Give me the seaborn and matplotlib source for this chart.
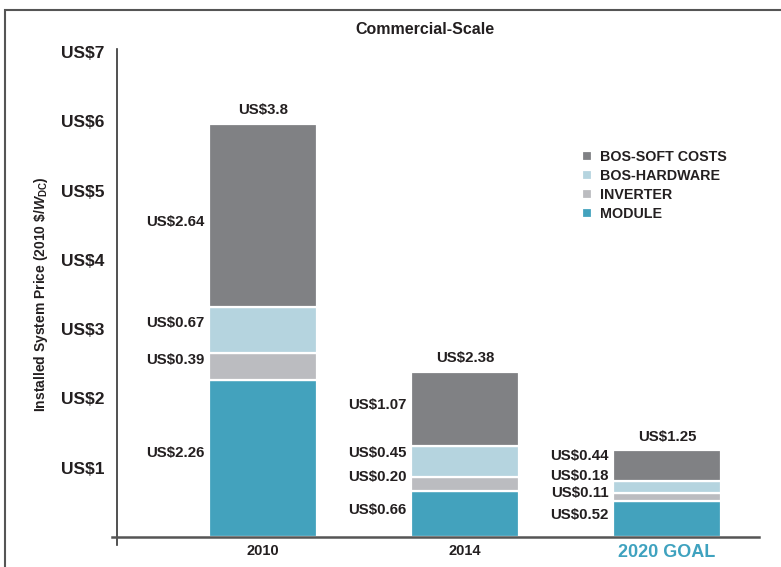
import numpy as np
import pandas as pd
import seaborn as sns
import matplotlib.pyplot as plt
from matplotlib.patches import Rectangle

# --- dane ---
years = ['2010', '2014', '2020 GOAL']
components = ['MODULE', 'INVERTER', 'BOS-HARDWARE', 'BOS-SOFT COSTS']
module = [2.26, 0.66, 0.52]
inverter = [0.39, 0.20, 0.11]
bos_hardware = [0.67, 0.45, 0.18]
bos_soft = [2.64, 1.07, 0.44]
total_labels = ['US$3.8', 'US$2.38', 'US$1.25']
y_ticks = [1, 2, 3, 4, 5, 6, 7]

colors = {'MODULE': '#43a2bd', 'INVERTER': '#bbbcc0',
          'BOS-HARDWARE': '#b5d4df', 'BOS-SOFT COSTS': '#808184'}
txt = '#231f20'

sns.set_theme(style='white')
plt.rcParams['font.family'] = ['Liberation Sans', 'DejaVu Sans']
plt.rcParams['mathtext.fontset'] = 'custom'
plt.rcParams['mathtext.it'] = 'Liberation Sans:italic:bold'
plt.rcParams['mathtext.rm'] = 'Liberation Sans:bold'

fig = plt.figure(figsize=(7.81, 5.67), dpi=100)
ax = fig.add_axes([117 / 781, 30 / 567, 642 / 781, 485 / 567])

values = np.array([module, inverter, bos_hardware, bos_soft])
bottoms = np.vstack([np.zeros(len(years)), np.cumsum(values, axis=0)[:-1]])

for i, comp in enumerate(components):
    df = pd.DataFrame({'year': years, 'value': values[i]})
    sns.barplot(data=df, x='year', y='value', order=years, bottom=bottoms[i],
                color=colors[comp], saturation=1, width=0.535,
                edgecolor='white', linewidth=1.6, label=comp, ax=ax)

# etykiety wartosci (po lewej stronie slupkow)
nudge = np.array([[4, 3, 3], [5, 5, 3], [5, 6, 8], [-5, 3, 7]])  # punkty
for i in range(len(components)):
    for j in range(len(years)):
        mid = bottoms[i, j] + values[i, j] / 2
        ax.annotate(f'US${values[i, j]:.2f}', (j - 0.535 / 2, mid),
                    xytext=(-3, nudge[i, j]), textcoords='offset points',
                    ha='right', va='center', fontsize=10.8,
                    fontweight='bold', color=txt)

tops = values.sum(axis=0)
for j, lab in enumerate(total_labels):
    ax.annotate(lab, (j, tops[j]), xytext=(0, 10), textcoords='offset points',
                ha='center', va='center', fontsize=10.8, fontweight='bold',
                color=txt)

ax.set_ylim(0, 7)
ax.set_xlim(-0.723, 2.455)
ax.set_yticks(y_ticks)
ax.set_yticklabels([f'US${v}' for v in y_ticks], fontsize=12.5,
                   fontweight='bold', color=txt)
ax.tick_params(axis='y', length=0, pad=9)
ax.tick_params(axis='x', length=0, pad=5)
ax.set_xticks(range(len(years)))
ax.set_xticklabels(years, fontweight='bold', fontsize=10.5, color=txt)
goal = ax.get_xticklabels()[2]
goal.set_color('#3fa2bf')
goal.set_fontsize(13)

ax.set_xlabel('')
ax.set_ylabel(r'Installed System Price (2010 \$/$\mathit{W}_{\mathrm{DC}}$)',
              fontsize=10, fontweight='bold', color=txt, labelpad=8)

for s in ['top', 'right']:
    ax.spines[s].set_visible(False)
ax.spines['left'].set_bounds(-0.12, 7.05)
ax.spines['left'].set_color('#333333')
ax.spines['left'].set_linewidth(1.2)
ax.spines['bottom'].set_bounds(-0.75, 2.455)
ax.spines['bottom'].set_color('#555555')
ax.spines['bottom'].set_linewidth(1.8)

handles, labels = ax.get_legend_handles_labels()
ax.legend(handles[::-1], labels[::-1], loc='upper left',
          bbox_to_anchor=(0.705, 0.825), frameon=False,
          prop={'weight': 'bold', 'size': 10.3}, handlelength=0.7,
          handleheight=0.7, handletextpad=0.5, labelspacing=0.35,
          labelcolor=txt)

fig.text(425 / 781, 1 - 30 / 567, 'Commercial-Scale', ha='center',
         va='center', fontsize=11.5, fontweight='bold', color=txt)

# ramka wokol calej grafiki
fig.patches.append(Rectangle((5 / 781, -0.2), 1.2, 1.2 - 10 / 567,
                             transform=fig.transFigure, fill=False,
                             edgecolor='#555555', linewidth=1.5))

fig.savefig('out.png', dpi=100)
